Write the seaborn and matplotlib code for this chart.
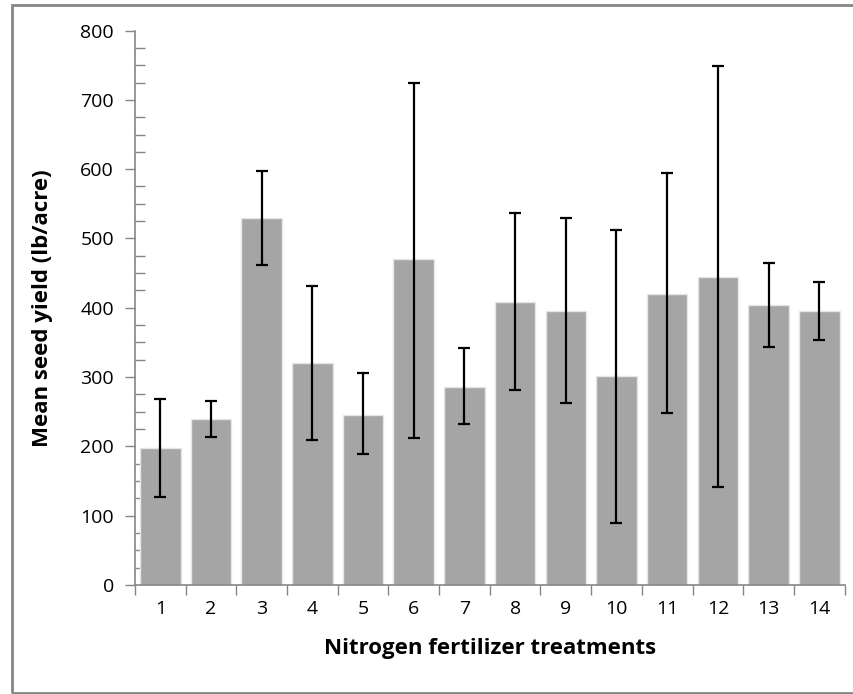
import numpy as np
import pandas as pd
import matplotlib
matplotlib.use("Agg")
import matplotlib.pyplot as plt
from matplotlib.ticker import MultipleLocator, FixedLocator
from matplotlib.patches import Rectangle
import seaborn as sns

# ---- data ----
treatments = [str(i) for i in range(1, 15)]
mean_yield = [198, 239, 530, 320, 246, 471, 286, 409, 396, 302, 420, 445, 404, 395]
err_upper = [269, 265, 597, 432, 306, 725, 342, 537, 530, 512, 594, 749, 465, 437]
err_lower = [127, 214, 462, 209, 189, 212, 232, 281, 262, 90, 248, 141, 343, 353]

df = pd.DataFrame({"treatment": treatments, "yield": mean_yield})

sns.set_theme(style="white")
plt.rcParams["font.family"] = ["Open Sans", "DejaVu Sans"]

axis_grey = "#868686"

fig = plt.figure(figsize=(8.54, 6.94), dpi=100)
ax = fig.add_axes([0.158, 0.157, 0.831, 0.799])

sns.barplot(data=df, x="treatment", y="yield", color="#A5A5A5", saturation=1,
            width=0.8, edgecolor="#E6E6E6", linewidth=1, ax=ax)

# asymmetric error bars
pos = np.arange(len(treatments))
means = np.array(mean_yield)
yerr = [means - np.array(err_lower), np.array(err_upper) - means]
ax.errorbar(pos, means, yerr=yerr, fmt="none", ecolor="black",
            elinewidth=1.6, capsize=4.5, capthick=1.6)

ax.set_ylim(0, 800)
ax.set_xlim(-0.5, len(treatments) - 0.5)
ax.yaxis.set_major_locator(MultipleLocator(100))
ax.yaxis.set_minor_locator(MultipleLocator(25))
ax.xaxis.set_minor_locator(FixedLocator(np.arange(-0.5, len(treatments), 1)))

ax.tick_params(axis="y", which="major", direction="out", length=7, width=1,
               color=axis_grey, labelsize=14, labelcolor="black", pad=8, left=True)
ax.tick_params(axis="y", which="minor", direction="in", length=7, width=1,
               color=axis_grey, left=True)
ax.tick_params(axis="x", which="major", length=0, labelsize=14,
               labelcolor="black", pad=11)
ax.tick_params(axis="x", which="minor", direction="out", length=7, width=1,
               color=axis_grey, bottom=True)

for side in ["top", "right"]:
    ax.spines[side].set_visible(False)
for side in ["left", "bottom"]:
    ax.spines[side].set_color(axis_grey)
    ax.spines[side].set_linewidth(1.2)

ax.set_xlabel("Nitrogen fertilizer treatments", fontsize=16, fontweight="bold",
              color="black", labelpad=14)
ax.set_ylabel("Mean seed yield (lb/acre)", fontsize=16, fontweight="bold",
              color="black", labelpad=20)

# outer chart-area frame
fig.patches.append(Rectangle((0.014, 0.0015), 0.99, 0.991, transform=fig.transFigure,
                             fill=False, edgecolor=axis_grey, linewidth=2))

fig.savefig("out.png", dpi=100)
